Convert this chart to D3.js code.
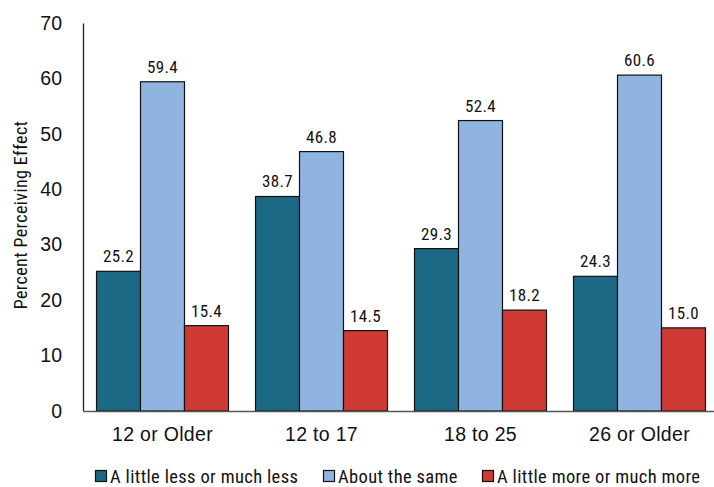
<!DOCTYPE html>
<html><head><meta charset="utf-8">
<script src="https://cdn.jsdelivr.net/npm/d3@7"></script>
<style>body{margin:0;background:#fff}svg{display:block}text{font-family:"Liberation Sans Narrow","Arial Narrow","Roboto Condensed",sans-serif;fill:#111}</style>
</head><body>
<svg id="c" width="714" height="487"></svg>
<script>
const categories = ["12 or Older", "12 to 17", "18 to 25", "26 or Older"];
const seriesNames = ["A little less or much less", "About the same", "A little more or much more"];
const lessValues = [25.2, 38.7, 29.3, 24.3];
const sameValues = [59.4, 46.8, 52.4, 60.6];
const moreValues = [15.4, 14.5, 18.2, 15.0];
const yTicks = [0, 10, 20, 30, 40, 50, 60, 70];
const colors = ["#1c6985", "#8fb4e0", "#d03a34"];

(function () {
const series = [lessValues, sameValues, moreValues];
const svg = d3.select("#c");
const mLeft = 83, mRight = 719, mTop = 23, mBottom = 411;
const FF = '"Liberation Sans Narrow","Arial Narrow",sans-serif';

const x0 = d3.scaleBand().domain(categories).range([mLeft, mRight]).paddingInner(0.17).paddingOuter(0.085);
const x1 = d3.scaleBand().domain(seriesNames).range([0, x0.bandwidth()]);
const y = d3.scaleLinear().domain([0, 70]).range([mBottom, mTop]);

// y axis
const yAxis = svg.append("g").attr("transform", `translate(${mLeft},0)`)
  .call(d3.axisLeft(y).tickValues(yTicks).tickSize(0).tickPadding(21));
yAxis.select(".domain").attr("stroke", "#222").attr("stroke-width", 1.3);
yAxis.selectAll("text").attr("font-size", 19.5).style("font-family", FF).attr("fill", "#111");

// bars
categories.forEach((c, i) => {
  series.forEach((s, j) => {
    const v = s[i];
    const bx = x0(c) + x1(seriesNames[j]);
    svg.append("rect").attr("x", bx).attr("y", y(v)).attr("width", x1.bandwidth()).attr("height", y(0) - y(v))
      .attr("fill", colors[j]).attr("stroke", "#111").attr("stroke-width", 1.2);
    svg.append("text").attr("x", bx + x1.bandwidth() / 2).attr("y", y(v) - 9)
      .attr("text-anchor", "middle").attr("font-size", 17).style("letter-spacing", "0.3px").text(v.toFixed(1));
  });
});

// x axis
const xAxis = svg.append("g").attr("transform", `translate(0,${mBottom})`)
  .call(d3.axisBottom(x0).tickSize(0).tickPadding(16).tickSizeOuter(0));
xAxis.select(".domain").attr("stroke", "#555").attr("stroke-width", 1.3);
xAxis.selectAll("text").attr("font-size", 19.5).style("font-family", FF).style("letter-spacing", "0.3px").attr("fill", "#111");

// y title
svg.append("text").attr("transform", "translate(27,215) rotate(-90)").attr("text-anchor", "middle")
  .attr("font-size", 18).style("letter-spacing", "0.4px").text("Percent Perceiving Effect");

// legend
const legX = [95, 323, 482];
seriesNames.forEach((n, j) => {
  const g = svg.append("g").attr("transform", `translate(${legX[j]},470)`);
  g.append("rect").attr("x", 0.5).attr("y", 0.5).attr("width", 11).attr("height", 11)
    .attr("fill", colors[j]).attr("stroke", "#111").attr("stroke-width", 1.2);
  g.append("text").attr("x", 15).attr("y", 12.5).attr("font-size", 18.5).style("letter-spacing", "0.35px").text(n);
});
})();
</script>
</body></html>
